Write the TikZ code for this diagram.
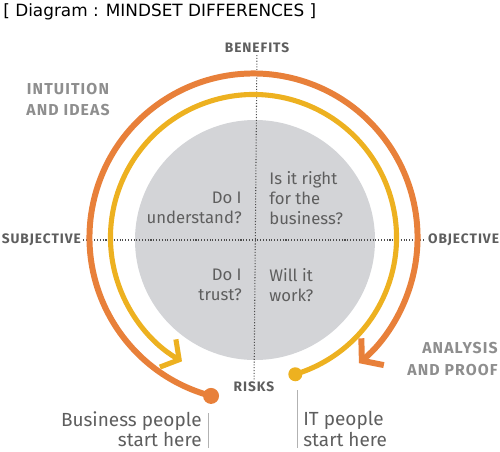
\documentclass[tikz,border=0pt]{standalone}
\usepackage{fontspec}
\setmainfont{Fira Sans}
\newfontfamily\titlefont{DejaVu Sans}
\newfontfamily\capsfont[LetterSpace=7]{Fira Sans}
\usetikzlibrary{arrows.meta,calc}
\definecolor{arcorange}{HTML}{E8803A}
\definecolor{arcyellow}{HTML}{EDB120}
\definecolor{discgray}{HTML}{D3D4D7}
\definecolor{textgray}{HTML}{5E5E5E}
\definecolor{softgray}{HTML}{8E8E8E}
\tikzset{
  axislabel/.style={font=\capsfont\fontsize{7.8}{9}\selectfont\bfseries, text=textgray, inner sep=1pt},
  sidelabel/.style={font=\capsfont\fontsize{9}{12}\selectfont\bfseries, text=softgray, inner sep=0pt},
  question/.style={font=\fontsize{9.5}{11.3}\selectfont, text=textgray, inner sep=0pt},
  starttext/.style={font=\fontsize{10.8}{11.5}\selectfont, text=textgray, inner sep=0pt},
  axis/.style={densely dotted, draw=black!70, line width=0.6pt},
  orangearc/.style={draw=arcorange, line width=3.4pt, -{Straight Barb[length=2.8mm,width=7mm]}},
  yellowarc/.style={draw=arcyellow, line width=2.9pt, -{Straight Barb[length=2.6mm,width=6.4mm]}},
  startdot/.style={circle, inner sep=0pt, minimum size=#1},
  rule/.style={draw=black!30, line width=0.4pt}
}
\begin{document}
\begin{tikzpicture}
\useasboundingbox (0,0) rectangle (10,9.02);
\coordinate (O) at (5.07,4.27);
\fill[discgray] (5.10,4.22) circle (2.40);
% title
\node[anchor=west, inner sep=0pt, font=\titlefont\fontsize{9.6}{11}\selectfont] (title) at (0.06,8.78) {[ Diagram : MINDSET DIFFERENCES ]};
% axis labels
\node[axislabel] (benefits) at (5.14,8.06) {BENEFITS};
\node[axislabel] (risks) at (5.08,1.28) {RISKS};
\node[axislabel, anchor=east] (subjective) at (1.66,4.22) {SUBJECTIVE};
\node[axislabel, anchor=west] (objective) at (8.52,4.22) {OBJECTIVE};
\draw[axis] (subjective) -- (objective);
\draw[axis] (benefits) -- (risks);
% side labels
\node[sidelabel, align=center] (intuition) at (1.36,7.03) {INTUITION\\AND IDEAS};
\node[sidelabel, align=right, anchor=east] (analysis) at (9.96,1.84) {ANALYSIS\\AND PROOF};
% questions
\node[question, align=right, anchor=east] (understand) at (4.84,4.86) {Do I\\understand?};
\node[question, align=left, anchor=west] (rightbiz) at (5.38,5.06) {Is it right\\for the\\business?};
\node[question, align=right, anchor=east] (trust) at (4.84,3.32) {Do I\\trust?};
\node[question, align=left, anchor=west] (work) at (5.38,3.32) {Will it\\work?};
% arcs
\node[startdot=0.32cm, fill=arcorange] (bizdot) at ($(O)+(255:3.28)$) {};
\node[startdot=0.28cm, fill=arcyellow] (itdot) at ($(O)+(287:2.86)$) {};
\draw[orangearc] (bizdot.center) arc[start angle=255, end angle=-50, radius=3.28];
\draw[yellowarc] (itdot.center) arc[start angle=287, delta angle=313, radius=2.86];
% start texts
\node[starttext, align=right, anchor=east] (biztext) at (4.04,0.44) {Business people\\start here};
\node[starttext, align=left, anchor=west] (ittext) at (6.06,0.44) {IT people\\start here};
\coordinate (biztop) at (4.16,0.76);
\coordinate (bizbot) at (4.16,0.06);
\coordinate (ittop) at (5.94,1.22);
\coordinate (itbot) at (5.94,0.06);
\draw[rule] (biztop) -- (bizbot);
\draw[rule] (ittop) -- (itbot);
\end{tikzpicture}
\end{document}
